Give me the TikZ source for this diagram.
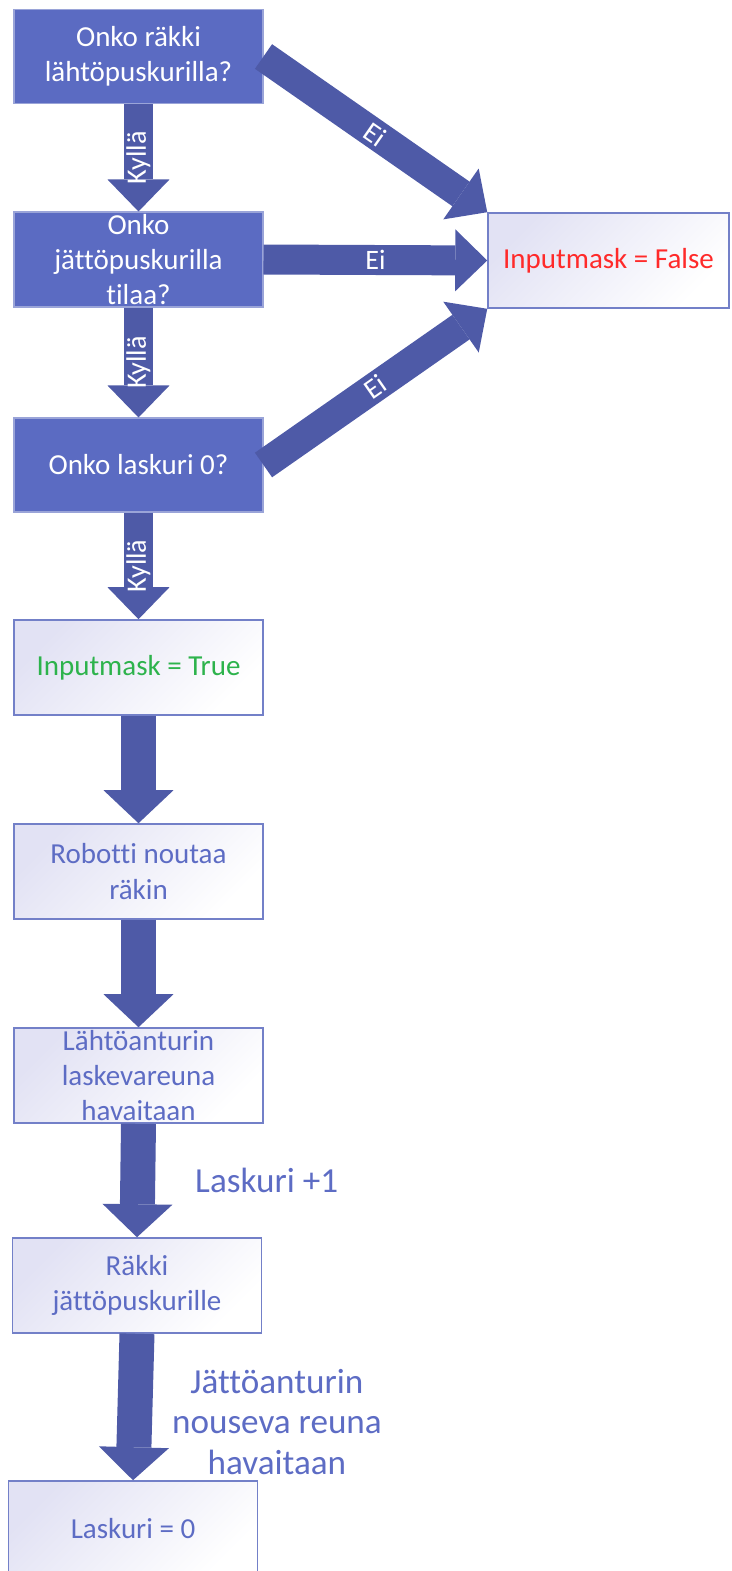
\documentclass[tikz,border=0pt]{standalone}
\usepackage{fontspec}
\setmainfont{Carlito}[Ligatures=NoCommon]
\usetikzlibrary{arrows.meta,positioning}

\definecolor{qfill}{HTML}{5B6BC2}
\definecolor{qline}{HTML}{9AA4D8}
\definecolor{flowblue}{HTML}{4E5AA7}
\definecolor{stepline}{HTML}{7380C8}
\definecolor{steptint}{HTML}{E2E2F4}
\definecolor{steptext}{HTML}{5D6CC4}
\definecolor{falsered}{HTML}{FF2A2A}
\definecolor{truegreen}{HTML}{2DB34C}

\begin{document}
\begin{tikzpicture}[x=0.02cm,y=-0.02cm,
        question/.style={rectangle,draw=qline,line width=0.6pt,fill=qfill,
            text=white,minimum width=4.98cm,minimum height=1.88cm,
            align=center,inner sep=0pt,font=\fontsize{16.5}{20}\selectfont},
        stepbox/.style={rectangle,draw=stepline,line width=0.9pt,
            top color=steptint,middle color=white,bottom color=white,
            shading angle=45,text=steptext,minimum width=4.98cm,
            minimum height=1.9cm,align=center,inner sep=0pt,
            font=\fontsize{16.5}{20}\selectfont},
        flow/.style={draw=flowblue,line width=0.6cm,
            -{Triangle[length=0.64cm,width=1.24cm,line width=0pt]}},
        bigflow/.style={draw=flowblue,line width=0.7cm,
            -{Triangle[length=0.66cm,width=1.4cm,line width=0pt]}},
        lbl/.style={text=white,inner sep=0pt,outer sep=0pt,
            font=\fontsize{16}{19}\selectfont},
        note/.style={text=steptext,inner sep=0pt,outer sep=0pt,align=center,
            font=\fontsize{20}{23}\selectfont}]
    \useasboundingbox (0,0) rectangle (731,1571);

    % questions
    \node[question] (q1) at (138.5,56.5) {Onko räkki\\lähtöpuskurilla?};
    \node[question,minimum height=1.9cm] (q2) at (138.5,259.5) {Onko\\jättöpuskurilla\\tilaa?};
    \node[question] (q3) at (138.5,465) {Onko laskuri 0?};

    % outcomes and steps
    \node[stepbox,text=falsered,minimum width=4.82cm] (fb) at (608.5,260.5) {Inputmask = False};
    \node[stepbox,text=truegreen] (tb) at (138.5,667.5) {Inputmask = True};
    \node[stepbox] (rb) at (138.5,871.5) {Robotti noutaa\\räkin};
    \node[stepbox] (lb) at (138.5,1075.5) {Lähtöanturin\\laskevareuna\\havaitaan};
    \node[stepbox] (rk) at (137,1285.5) {Räkki\\jättöpuskurille};
    \node[stepbox] (l0) at (133,1528.5) {Laskuri = 0};

    \draw[flow] (q1.south) -- node[lbl,rotate=90] {Kyllä} (q2.north);
    \draw[flow] (q2.south) -- node[lbl,rotate=90] {Kyllä} (q3.north);
    \draw[flow] (q3.south) -- node[lbl,rotate=90] {Kyllä} (tb.north);

    \draw[flow] (q1.east) -- node[lbl,sloped] {Ei} (fb.north west);
    \draw[flow] (q2.east) -- node[lbl] {Ei} (fb.west);
    \draw[flow] (q3.east) -- node[lbl,sloped] {Ei} (fb.south west);

    \draw[bigflow] (tb.south) -- (rb.north);
    \draw[bigflow] (rb.south) -- (lb.north);
    \draw[bigflow] (lb.south) -- node[note,right=1.15cm] {Laskuri +1} (rk.north);
    \draw[bigflow] (rk.south) -- node[note,pos=0.6,right=0.75cm]
        {Jättöanturin\\nouseva reuna\\havaitaan} (l0.north);
\end{tikzpicture}
\end{document}
